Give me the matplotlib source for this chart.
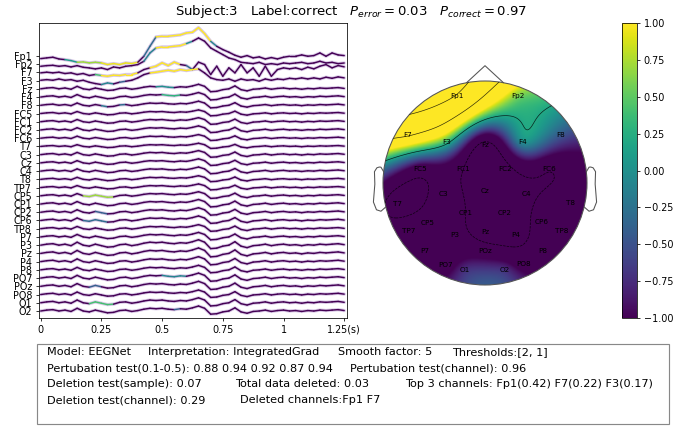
import numpy as np
import matplotlib.pyplot as plt
from matplotlib.collections import LineCollection
from matplotlib.patches import Circle, Rectangle

channels = ['Fp1', 'Fp2', 'F7', 'F3', 'Fz', 'F4', 'F8', 'FC5', 'FC1', 'FC2', 'FC6',
            'T7', 'C3', 'Cz', 'C4', 'T8', 'TP7', 'CP5', 'CP1', 'CP2', 'CP6', 'TP8',
            'P7', 'P3', 'Pz', 'P4', 'P8', 'PO7', 'POz', 'PO8', 'O1', 'O2']

# sample times (s), one value every 25 ms
times = np.linspace(0, 1.25, 51)

# frontal channels with the blink artefact
fp1 = [-0.33, -0.24, -0.16, -0.37, -0.45, -0.57, -0.77, -0.73, -0.85, -0.77, -0.85,
       -1.05, -0.93, -1.05, -0.85, -0.93, -0.77, -0.04, 1.17, 2.31, 2.39, 2.39, 2.47,
       2.55, 2.79, 2.87, 3.44, 2.71, 1.78, 1.17, 0.77, 0.45, 0.08, -0.16, 0.04, -0.24,
       -0.12, -0.37, -0.20, -0.37, -0.16, -0.04, -0.04, 0.12, -0.04, 0.04, 0.36, -0.04,
       0.36, 0.12, 0.04]
fp2 = [-0.26, -0.18, -0.14, -0.26, -0.18, -0.34, -0.18, -0.38, -0.46, -0.58, -0.46,
       -0.66, -0.34, -0.46, -0.26, -0.18, -0.05, 0.35, 1.36, 1.97, 2.09, 2.09, 2.17,
       2.25, 2.50, 2.78, 3.18, 2.78, 1.97, 1.56, 1.16, 0.75, 0.55, 0.22, 0.14, 0.06,
       0.22, -0.05, 0.06, -0.05, 0.14, 0.06, 0.14, 0.22, 0.06, 0.14, 0.35, 0.14, 0.22,
       0.06, 0.14]
f7 = [-0.06, 0.02, -0.06, 0.02, -0.14, -0.06, -0.26, -0.14, -0.38, -0.26, -0.38,
      -0.47, -0.34, -0.38, -0.26, -0.26, -0.06, 0.34, 0.55, 0.75, 1.16, 0.83, 1.24,
      0.95, 0.83, 0.34, 1.24, 0.95, -0.26, 0.75, -0.47, 0.55, -0.06, 0.95, -0.06, 0.55,
      -0.47, 0.75, -0.47, 0.34, 0.55, 0.43, 0.55, 0.34, 0.63, 0.43, 0.75, 0.95, 0.55,
      0.83, 0.67]
f3 = [0.04, 0.12, 0.04, 0.20, 0.04, 0.12, -0.08, 0.04, -0.20, -0.36, -0.48, -0.28,
      -0.40, -0.20, -0.08, 0.04, 0.33, 0.73, 0.93, 1.02, 1.14, 1.26, 1.14, 1.34, 1.22,
      1.34, 1.42, 0.93, 0.33, 0.12, 0.04, 0.20, -0.08, 0.20, 0.04, 0.12, -0.08, 0.20,
      0.04, 0.20, 0.12, 0.28, 0.20, 0.33, 0.20, 0.33, 0.20, 0.41, 0.28, 0.45, 0.33]
frontal = {'Fp1': fp1, 'Fp2': fp2, 'F7': f7, 'F3': f3}

# waveform shared by the remaining channels, and its size on each of them
common = [0.0, 0.1, 0.15, 0.0, 0.1, -0.05, 0.3, 0.0, -0.1, 0.1, -0.05, -0.2, -0.15,
          0.05, 0.1, -0.05, 0.05, 0.2, 0.3, 0.25, 0.3, 0.2, 0.15, 0.25, 0.2, 0.35, 0.55,
          0.3, -0.35, -0.3, -0.1, 0.0, 0.35, -0.1, -0.25, -0.05, 0.0, 0.1, -0.05, 0.05,
          0.1, 0.0, 0.05, -0.05, 0.05, 0.0, 0.1, 0.05, 0.1, 0.15, 0.05]
gain = {'Fz': 1.0, 'F4': 1.0, 'F8': 0.9, 'FC5': 0.8, 'FC1': 0.9, 'FC2': 0.9, 'FC6': 0.8,
        'T7': 0.7, 'C3': 0.9, 'Cz': 0.9, 'C4': 0.9, 'T8': 0.8, 'TP7': 0.8, 'CP5': 0.9,
        'CP1': 1.0, 'CP2': 1.0, 'CP6': 1.0, 'TP8': 0.9, 'P7': 1.0, 'P3': 1.2, 'Pz': 1.2,
        'P4': 1.1, 'P8': 1.0, 'PO7': 1.1, 'POz': 1.1, 'PO8': 1.0, 'O1': 1.1, 'O2': 1.1}

# (channel, start s, end s, relevance 0..1) for the highlighted stretches
highlights = [
    ('Fp1', 0.10, 0.14, 0.55), ('Fp1', 0.14, 0.26, 0.85), ('Fp1', 0.26, 0.40, 0.97),
    ('Fp1', 0.42, 0.47, 0.35), ('Fp1', 0.47, 0.69, 1.0), ('Fp1', 0.69, 0.72, 0.45),
    ('Fp2', 0.43, 0.47, 0.45), ('Fp2', 0.47, 0.59, 1.0), ('Fp2', 0.59, 0.62, 0.5),
    ('F7', 0.22, 0.26, 0.7), ('F7', 0.26, 0.40, 1.0), ('F7', 0.46, 0.57, 1.0),
    ('F7', 0.60, 0.63, 0.35),
    ('F3', 0.25, 0.29, 0.45), ('F3', 0.33, 0.36, 0.3), ('F3', 0.46, 0.64, 1.0),
    ('Fz', 0.47, 0.54, 0.5), ('F4', 0.50, 0.58, 0.65),
    ('F8', 0.24, 0.28, 0.4), ('F8', 0.32, 0.35, 0.35),
    ('CP5', 0.17, 0.29, 0.85), ('CP2', 0.22, 0.27, 0.3), ('CP6', 0.18, 0.28, 0.35),
    ('PO7', 0.50, 0.59, 0.45), ('POz', 0.21, 0.25, 0.3), ('O1', 0.20, 0.29, 0.7),
    ('O2', 0.54, 0.57, 0.3),
]

# relevance per electrode for the scalp map
topo_values = {'Fp1': 3.5, 'Fp2': 0.6, 'F7': 2.0, 'F3': 0.35, 'Fz': -1.7, 'F4': 0.0,
               'F8': -0.45, 'FC5': -1.2, 'FC1': -1.5, 'FC2': -1.7, 'FC6': -1.45,
               'T7': -1.7, 'C3': -1.3, 'Cz': -1.8, 'C4': -1.6, 'T8': -1.1, 'TP7': -1.2,
               'CP5': -1.3, 'CP1': -1.5, 'CP2': -1.8, 'CP6': -1.3, 'TP8': -1.2,
               'P7': -1.2, 'P3': -1.35, 'Pz': -1.7, 'P4': -1.7, 'P8': -1.2, 'PO7': -1.2,
               'POz': -1.25, 'PO8': -1.2, 'O1': -0.75, 'O2': -0.75}

# 2D electrode layout, head radius = 1
montage = {'Fp1': (-0.28, 0.85), 'Fp2': (0.32, 0.85), 'F7': (-0.76, 0.47),
           'F3': (-0.38, 0.40), 'Fz': (0.0, 0.37), 'F4': (0.37, 0.40), 'F8': (0.74, 0.47),
           'FC5': (-0.64, 0.14), 'FC1': (-0.21, 0.14), 'FC2': (0.20, 0.14),
           'FC6': (0.63, 0.14), 'T7': (-0.86, -0.21), 'C3': (-0.41, -0.11),
           'Cz': (0.0, -0.08), 'C4': (0.41, -0.11), 'T8': (0.84, -0.20),
           'TP7': (-0.75, -0.47), 'CP5': (-0.56, -0.39), 'CP1': (-0.19, -0.29),
           'CP2': (0.19, -0.29), 'CP6': (0.56, -0.38), 'TP8': (0.75, -0.47),
           'P7': (-0.59, -0.67), 'P3': (-0.30, -0.51), 'Pz': (0.0, -0.48),
           'P4': (0.30, -0.51), 'P8': (0.57, -0.67), 'PO7': (-0.39, -0.80),
           'POz': (0.0, -0.67), 'PO8': (0.38, -0.79), 'O1': (-0.20, -0.85),
           'O2': (0.19, -0.85)}

W, H, DPI = 695, 432, 69.5
fig = plt.figure(figsize=(W / DPI, H / DPI), dpi=DPI)


def box(x0, y0, x1, y1):
    return [x0 / W, 1 - y1 / H, (x1 - x0) / W, (y1 - y0) / H]


# ---- traces ----
ax = fig.add_axes(box(39, 23, 347, 318))
n = len(channels)
mid = (times[:-1] + times[1:]) / 2
for i, ch in enumerate(channels):
    sig = np.array(frontal[ch]) if ch in frontal else gain[ch] * np.array(common)
    y = (n - 1 - i) + sig
    level = np.zeros(len(mid))
    for c, a, b, v in highlights:
        if c == ch:
            level[(mid >= a) & (mid <= b)] = v
    ax.plot(times, y, color='#d8c8e6', lw=3.4, solid_capstyle='round',
            solid_joinstyle='round', zorder=1)
    pts = np.column_stack([times, y]).reshape(-1, 1, 2)
    segs = np.concatenate([pts[:-1], pts[1:]], axis=1)
    lc = LineCollection(segs, colors=plt.cm.viridis(level), linewidths=1.5,
                        capstyle='round', joinstyle='round', zorder=2)
    ax.add_collection(lc)

ax.set_xlim(-0.007, 1.2615)
ax.set_ylim(-0.85, 35.0)
ax.set_yticks(n - 1 - np.arange(n))
ax.set_yticklabels(channels, fontsize=10)
ax.set_xticks([0, 0.25, 0.5, 0.75, 1, 1.25])
ax.set_xticklabels(['0', '0.25', '0.5', '0.75', '1', '1.25(s)'], fontsize=10)

# ---- scalp map ----
tax = fig.add_axes(box(365, 55, 605, 300))
tax.set_xlim(-120 / 102, 120 / 102)
tax.set_ylim(-117 / 102, 128 / 102)
tax.axis('off')

pos = np.array([montage[c] for c in channels])
vals = np.array([topo_values[c] for c in channels])


def tps_kernel(d):
    with np.errstate(divide='ignore', invalid='ignore'):
        k = d ** 2 * np.log(d)
    return np.nan_to_num(k)


# thin-plate spline through the electrode values
d = np.linalg.norm(pos[:, None, :] - pos[None, :, :], axis=-1)
P = np.column_stack([np.ones(n), pos])
A = np.block([[tps_kernel(d), P], [P.T, np.zeros((3, 3))]])
coef = np.linalg.solve(A, np.concatenate([vals, np.zeros(3)]))

g = np.linspace(-1.02, 1.02, 260)
gx, gy = np.meshgrid(g, g)
gp = np.column_stack([gx.ravel(), gy.ravel()])
dg = np.linalg.norm(gp[:, None, :] - pos[None, :, :], axis=-1)
field = tps_kernel(dg) @ coef[:n] + coef[n] + gp @ coef[n + 1:]
field = field.reshape(gx.shape)

head = Circle((0, 0), 1.0, transform=tax.transData)
im = tax.imshow(field, origin='lower', extent=(-1.02, 1.02, -1.02, 1.02),
                cmap='viridis', vmin=-1, vmax=1, interpolation='bilinear')
im.set_clip_path(head)
cs = tax.contour(gx, gy, field, levels=[-1.5, 0.2, 1.9, 3.6], colors='k',
                 linewidths=0.7, alpha=0.8)
cs.set_clip_path(head)

outline = dict(color='#555555', lw=1.1)
tax.add_patch(Circle((0, 0), 1.0, fill=False, ec='#555555', lw=1.1))
tax.plot([-0.18, 0, 0.18], [0.984, 1.15, 0.984], **outline)
ear_x = np.array([.497, .510, .518, .5299, .5419, .54, .547, .532, .510, .489]) * 2
ear_y = np.array([.0555, .0775, .0783, .0746, .0555, -.0055, -.0932, -.1313, -.1384, -.1199]) * 2
tax.plot(ear_x, ear_y, **outline)
tax.plot(-ear_x, ear_y, **outline)
for c in channels:
    tax.text(*montage[c], c, ha='center', va='center', fontsize=7.5)

cax = fig.add_axes(box(622, 23, 637, 318))
cb = fig.colorbar(im, cax=cax, ticks=np.linspace(-1, 1, 9))
cb.ax.tick_params(labelsize=10)

fig.text(0.505, 1 - 12 / H,
         r'Subject:3   Label:correct   $P_{error} = 0.03$   $P_{correct} = 0.97$',
         ha='center', va='center', fontsize=13.7)

# ---- summary box ----
fig.add_artist(Rectangle((37 / W, 1 - 424 / H), 632 / W, 80 / H, transform=fig.transFigure,
                         fill=False, ec='#888888', lw=1.2))
summary = [
    (46.7, 352, 'Model: EEGNet'), (148, 352, 'Interpretation: IntegratedGrad'),
    (338, 352, 'Smooth factor: 5'), (452, 352, 'Thresholds:[2, 1]'),
    (46.7, 368, 'Pertubation test(0.1-0.5): 0.88 0.94 0.92 0.87 0.94'),
    (350, 368, 'Pertubation test(channel): 0.96'),
    (46.7, 384, 'Deletion test(sample): 0.07'), (235, 384, 'Total data deleted: 0.03'),
    (405, 384, 'Top 3 channels: Fp1(0.42) F7(0.22) F3(0.17)'),
    (46.7, 400, 'Deletion test(channel): 0.29'), (240, 400, 'Deleted channels:Fp1 F7'),
]
for x, y, s in summary:
    fig.text(x / W, 1 - y / H, s, ha='left', va='center', fontsize=11.6)

fig.savefig('out.png', dpi=DPI)
